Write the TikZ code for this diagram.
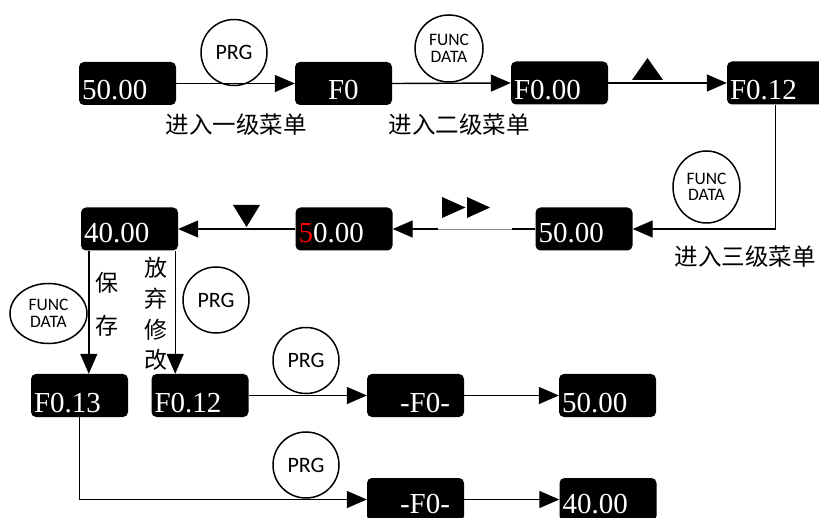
\documentclass[tikz,border=0pt]{standalone}
\usepackage{fontspec}
\setmainfont{Liberation Serif}
\newfontfamily\cjk{Noto Sans CJK SC}
\newfontfamily\keyfont{Carlito}
\usetikzlibrary{arrows.meta,shapes.geometric,calc}
\begin{document}
\begin{tikzpicture}[x=1pt,y=-1pt,
  lcd/.style={fill=black, rounded corners=5pt, minimum width=97pt, minimum height=43pt,
    inner sep=0pt, text=white, font=\fontsize{29}{29}\selectfont,
    text width=91pt, align=left, text height=38pt, text depth=5pt},
  lcdmid/.style={lcd, text height=35pt, text depth=8pt},
  lcdlow/.style={lcd, text height=35pt, text depth=8pt},
  keyc/.style={draw, circle, line width=1.5pt, minimum size=66pt, inner sep=0pt,
    font=\keyfont\fontsize{22}{22}\selectfont},
  keyfd/.style={draw, ellipse, line width=1.5pt, inner sep=0pt, align=center,
    font=\keyfont\fontsize{17.5}{16.5}\selectfont},
  capt/.style={font=\cjk\fontsize{23.5}{23.5}\selectfont, inner sep=0pt},
  conn/.style={line width=1.4pt},
  arr/.style={conn, -{Triangle[length=20pt,width=17pt]}},
  faint/.style={line width=0.8pt, draw=black!45}
]
\useasboundingbox (0,0) rectangle (819,518);

% top row
\node[lcd] (b1) at (127.5,83.5) {50.00};
\node[lcd] (b2) at (343.5,83.5) {\hspace*{30pt}F0};
\node[lcd] (b3) at (559.5,83) {F0.00};
\node[lcd] (b4) at (775.5,83) {F0.12};

% middle row
\node[lcdmid] (m1) at (129.5,229) {40.00};
\node[lcdmid] (m2) at (344,229) {{\color{red}5}0.00};
\node[lcdmid] (m3) at (584,229) {50.00};

% lower rows
\node[lcd] (f13) at (79.5,395.5) {F0.13};
\node[lcd] (f12) at (200,395.5) {F0.12};
\node[lcd] (n1) at (415.5,395.5) {\hspace*{30pt}-F0-};
\node[lcd] (n2) at (607.5,395.5) {50.00};
\node[lcdlow] (p1) at (415.5,499.5) {\hspace*{30pt}-F0-};
\node[lcdlow] (p2) at (608,499.5) {40.00};

% keys
\node[keyc] (k1) at (234,52.5) {PRG};
\node[keyfd, minimum width=68pt, minimum height=67pt] (k2) at (449,48.5) {FUNC\\DATA};
\node[keyfd, minimum width=67pt, minimum height=72pt] (k3) at (706.5,187) {FUNC\\DATA};
\node[keyfd, minimum width=77pt, minimum height=60pt] (k4) at (48.5,313.5) {FUNC\\DATA};
\node[keyc] (k5) at (216,300) {PRG};
\node[keyc] (k6) at (306,360.5) {PRG};
\node[keyc] (k7) at (306,465) {PRG};

% captions
\node[capt] (c1) at (236,125) {进入一级菜单};
\node[capt] (c2) at (459,125) {进入二级菜单};
\node[capt] (c3) at (745,257) {进入三级菜单};
\node[capt, align=center, font=\cjk\fontsize{23}{43}\selectfont] (c4) at (107,304.5) {保\\存};
\node[capt, align=center, font=\cjk\fontsize{23}{30.7}\selectfont] (c5) at (156,314) {放\\弃\\修\\改};

% connectors
\draw[arr] (b1.east) -- (b2.west);
\draw[arr] (b2.east) -- (b3.west);
\draw[arr] (b3.east) -- (b4.west);
\draw[arr] (b4.south) |- (m3.east);
\coordinate (g1) at (512,229);
\coordinate (g2) at (438,229);
\draw[conn] (m3.west) -- (g1);
\draw[faint] (g1) -- (g2);
\draw[arr] (g2) -- (m2.east);
\draw[arr] (m2.west) -- (m1.east);
\coordinate (s1) at ([xshift=8pt]m1.south west);
\coordinate (s2) at ([xshift=-3pt]m1.south east);
\draw[arr] (s1) -- (s1 |- f13.north);
\draw[arr] (s2) -- (s2 |- f12.north);
\draw[arr] (f12.east) -- (n1.west);
\draw[arr] (n1.east) -- (n2.west);
\draw[arr] (f13.south) |- (p1.west);
\draw[arr] (p1.east) -- (p2.west);

% key symbols
\fill (632,80) -- (663,80) -- (647.5,58) -- cycle;
\fill (233,205) -- (260,205) -- (246.5,227) -- cycle;
\fill (442,197) -- (442,218) -- (465.5,207.5) -- cycle;
\fill (467,197) -- (467,218) -- (490,207.5) -- cycle;
\end{tikzpicture}
\end{document}
